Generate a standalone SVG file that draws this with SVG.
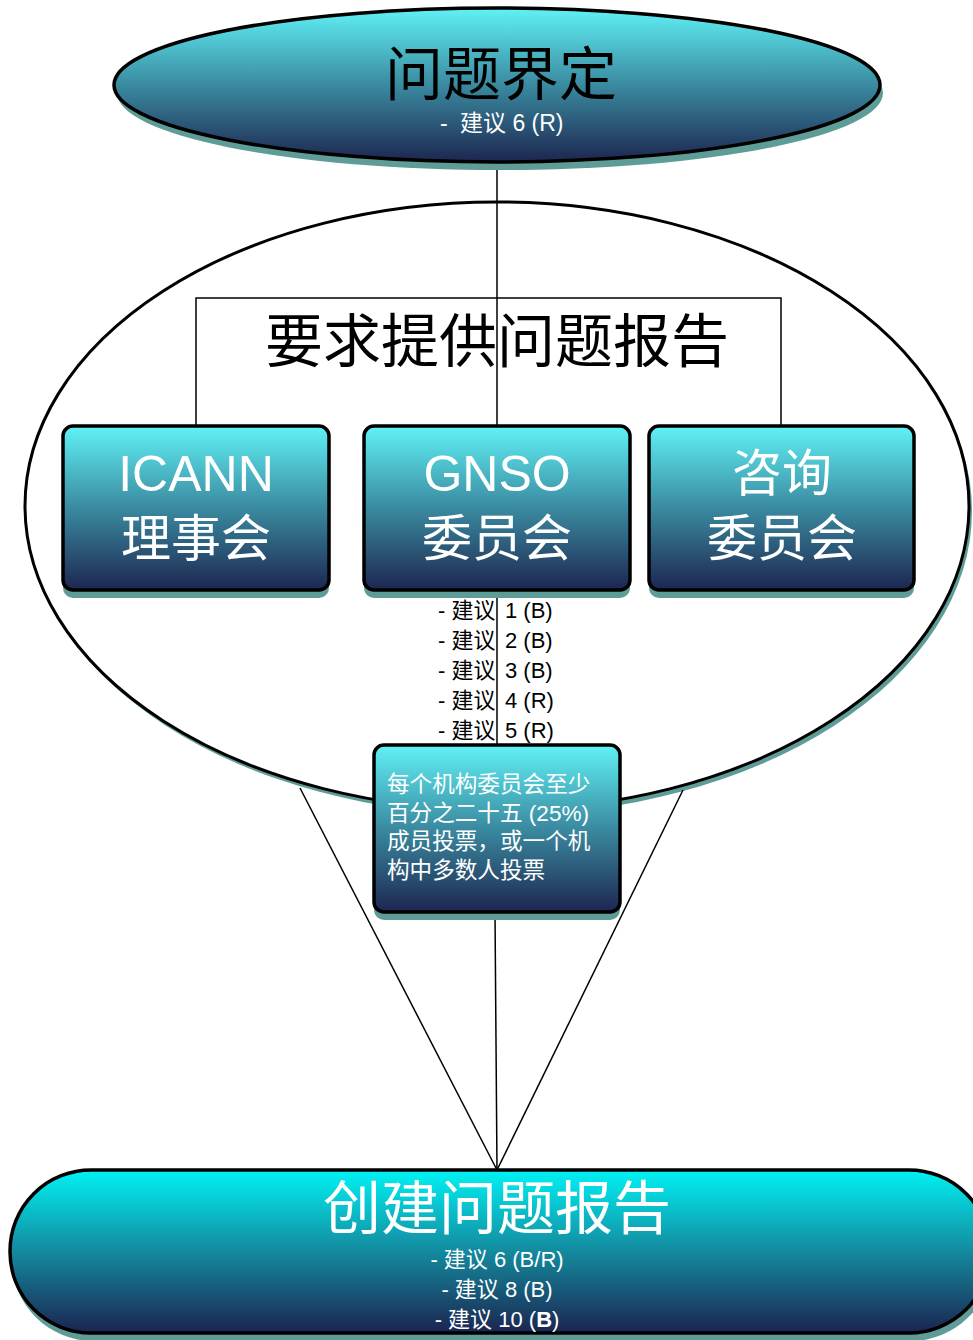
<svg xmlns="http://www.w3.org/2000/svg" width="973" height="1340" viewBox="0 0 973 1340">
<defs>
<linearGradient id="g1" x1="0" y1="0" x2="0" y2="1">
<stop offset="0" stop-color="#60f2f6"/>
<stop offset="0.5" stop-color="#3a8aa0"/>
<stop offset="1" stop-color="#1d2650"/>
</linearGradient>
<linearGradient id="g2" x1="0" y1="0" x2="0" y2="1">
<stop offset="0" stop-color="#00f2f4"/>
<stop offset="0.5" stop-color="#138a9e"/>
<stop offset="1" stop-color="#1c2450"/>
</linearGradient>
<style>
.sh{fill:#5e9c98;stroke:none}
.bx{fill:url(#g1);stroke:#000;stroke-width:3.5}
.ln{stroke:#000;stroke-width:1.5;fill:none}
.cjk{font-family:"Liberation Sans","Noto Sans CJK SC",sans-serif;text-anchor:middle}
.w{fill:#fff}
.k{fill:#000}
</style>
</defs>
<g id="big-ellipse">
<ellipse cx="500" cy="511" rx="472" ry="304" class="sh"/>
<ellipse cx="497" cy="506" rx="472" ry="304" fill="#fff" stroke="#000" stroke-width="3"/>
</g>
<g id="connectors">
<line x1="497" y1="162" x2="497" y2="426" class="ln"/>
<polyline points="196,426 196,298 781,298 781,426" class="ln"/>
<line x1="497" y1="590" x2="497" y2="745" class="ln"/>
<line x1="495" y1="912" x2="497" y2="1170" class="ln"/>
<line x1="300" y1="788" x2="497" y2="1170" class="ln"/>
<line x1="683" y1="790" x2="497" y2="1170" class="ln"/>
</g>
<g id="title-request">
<text x="497" y="362" class="cjk k" font-size="58">要求提供问题报告</text>
</g>
<g id="problem-definition">
<ellipse cx="500" cy="93" rx="383" ry="77" class="sh"/>
<ellipse cx="497" cy="85" rx="383" ry="77" fill="url(#g1)" stroke="#000" stroke-width="3.5"/>
<text x="501" y="95" class="cjk k" font-size="58">问题界定</text>
<text y="131" font-family="Liberation Sans,Noto Sans CJK SC,sans-serif" font-size="23" fill="#fff"><tspan x="440">-</tspan><tspan x="460">建议 6 (R)</tspan></text>
</g>
<g id="icann-board">
<rect x="63" y="434" width="266" height="164" rx="10" class="sh"/>
<rect x="63" y="426" width="266" height="164" rx="10" class="bx"/>
<text x="196" y="491" class="cjk w" font-size="50">ICANN</text>
<text x="196" y="556" class="cjk w" font-size="50">理事会</text>
</g>
<g id="gnso-council">
<rect x="364" y="434" width="266" height="164" rx="10" class="sh"/>
<rect x="364" y="426" width="266" height="164" rx="10" class="bx"/>
<text x="497" y="491" class="cjk w" font-size="50">GNSO</text>
<text x="497" y="556" class="cjk w" font-size="50">委员会</text>
</g>
<g id="advisory-committee">
<rect x="649" y="434" width="265" height="164" rx="10" class="sh"/>
<rect x="649" y="426" width="265" height="164" rx="10" class="bx"/>
<text x="782" y="491" class="cjk w" font-size="50">咨询</text>
<text x="782" y="556" class="cjk w" font-size="50">委员会</text>
</g>
<g id="recommendations" font-family="Liberation Sans,Noto Sans CJK SC,sans-serif" font-size="22" fill="#000">
<text y="618"><tspan x="438">- 建议</tspan><tspan x="505">1 (B)</tspan></text>
<text y="648"><tspan x="438">- 建议</tspan><tspan x="505">2 (B)</tspan></text>
<text y="678"><tspan x="438">- 建议</tspan><tspan x="505">3 (B)</tspan></text>
<text y="708"><tspan x="438">- 建议</tspan><tspan x="505">4 (R)</tspan></text>
<text y="738"><tspan x="438">- 建议</tspan><tspan x="505">5 (R)</tspan></text>
</g>
<g id="vote-box">
<rect x="374" y="753" width="246" height="167" rx="10" class="sh"/>
<rect x="374" y="745" width="246" height="167" rx="10" class="bx"/>
<g font-family="Liberation Sans,Noto Sans CJK SC,sans-serif" font-size="22.6" fill="#fff">
<text x="387" y="792">每个机构委员会至少</text>
<text x="387" y="821">百分之二十五 (25%)</text>
<text x="387" y="849">成员投票，或一个机</text>
<text x="387" y="878">构中多数人投票</text>
</g>
</g>
<g id="create-report">
<rect x="12" y="1178" width="980" height="163" rx="81" class="sh"/>
<rect x="10" y="1170" width="980" height="163" rx="81" fill="url(#g2)" stroke="#000" stroke-width="3.5"/>
<text x="497" y="1229" class="cjk w" font-size="58">创建问题报告</text>
<text x="497" y="1267" class="cjk w" font-size="22">- 建议 6 (B/R)</text>
<text x="497" y="1297" class="cjk w" font-size="22">- 建议 8 (B)</text>
<text x="497" y="1327" class="cjk w" font-size="22">- 建议 10 (<tspan font-weight="bold">B</tspan>)</text>
</g>
</svg>
